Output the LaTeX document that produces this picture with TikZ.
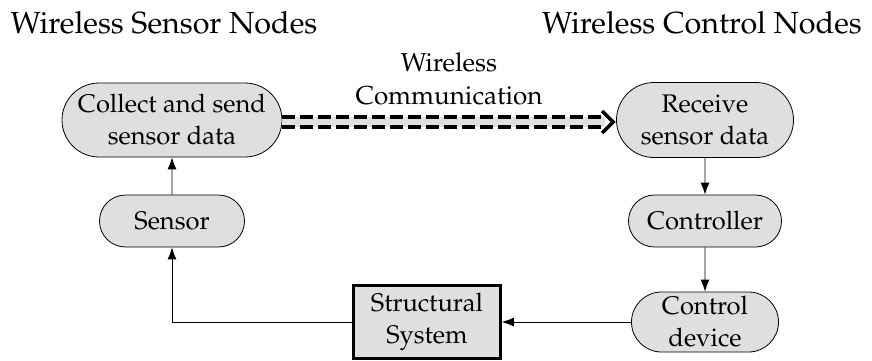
\documentclass[tikz,border=0pt]{standalone}
\usepackage[T1]{fontenc}
\usepackage{mathpazo}
\usetikzlibrary{shapes.misc,arrows.meta}

\tikzset{
  proc/.style={rounded rectangle, draw, line width=0.8pt, fill=gray!25, align=center,
    inner sep=0pt, font=\fontsize{25.5}{32}\selectfont},
  plant/.style={rectangle, draw, line width=2.5pt, fill=gray!25, align=center,
    inner sep=0pt, font=\fontsize{25.5}{32}\selectfont},
  flow/.style={-{Latex[length=12pt,width=9pt]}, line width=0.9pt},
  wire/.style={line width=3.5pt, dash pattern=on 13pt off 5pt},
  heading/.style={anchor=base, font=\fontsize{30.5}{36}\selectfont}
}

\begin{document}
\begin{tikzpicture}[x=1pt,y=-1pt]
\useasboundingbox (0,0) rectangle (872,360);

% --- headings ---
\node[heading] (hsensor) at (164,33) {Wireless Sensor Nodes};
\node[heading] (hcontrol) at (702,33) {Wireless Control Nodes};

% --- blocks ---
\node[proc, minimum width=220pt, minimum height=74pt] (collect) at (172,120) {Collect and send\\sensor data};
\node[proc, minimum width=177pt, minimum height=75pt] (receive) at (705,120) {Receive\\sensor data};
\node[proc, minimum width=145pt, minimum height=52pt] (sensor) at (172,221) {Sensor};
\node[proc, minimum width=153pt, minimum height=52pt] (controller) at (705,221) {Controller};
\node[proc, minimum width=147pt, minimum height=60pt] (device) at (705,322) {Control\\device};
\node[plant, minimum width=147pt, minimum height=73pt] (structure) at (427,322) {Structural\\System};

% --- wireless link ---
\node[align=center, font=\fontsize{26}{33}\selectfont] (wlabel) at (449,79) {Wireless\\Communication};
\coordinate (wstart) at ([yshift=-2pt]collect.east);
\coordinate (wtip) at ([xshift=-3pt,yshift=-2pt]receive.west);
\draw[line width=10pt, gray!25] (wstart) -- ([xshift=-8pt]wtip);
\draw[wire] ([yshift=5pt]wstart) -- ([xshift=-10pt,yshift=5pt]wtip);
\draw[wire] ([yshift=-5pt]wstart) -- ([xshift=-10pt,yshift=-5pt]wtip);
\draw[line width=3.5pt, line join=miter] ([xshift=-11pt,yshift=11pt]wtip) -- (wtip) -- ([xshift=-11pt,yshift=-11pt]wtip);

% --- signal flow ---
\draw[flow] (sensor) -- (collect);
\draw[flow] (receive) -- (controller);
\draw[flow] (controller) -- (device);
\draw[flow] (device) -- (structure);
\draw[flow] (structure.west) -| (sensor.south);

\end{tikzpicture}
\end{document}
